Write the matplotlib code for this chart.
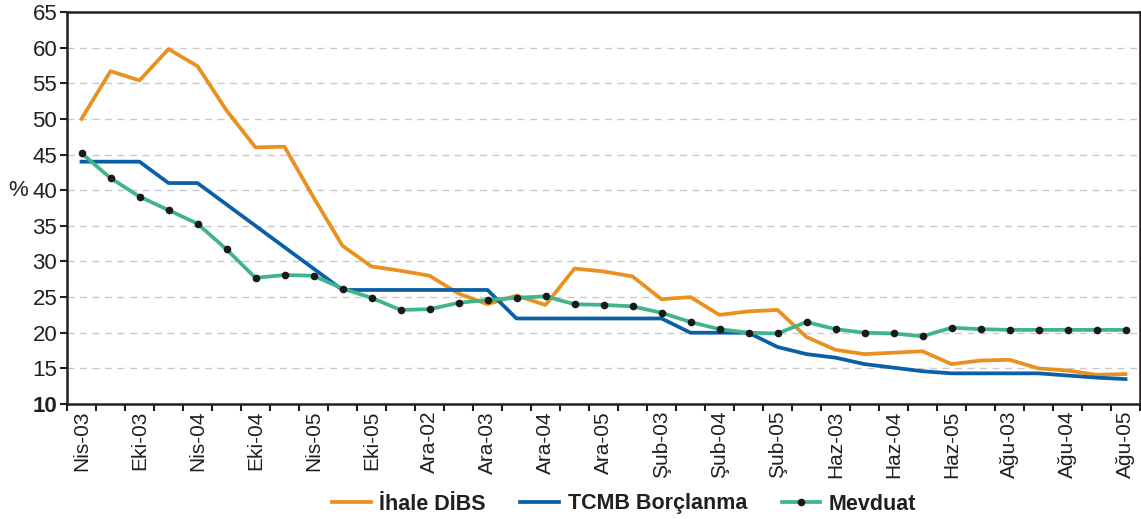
import numpy as np
import matplotlib
matplotlib.use("Agg")
import matplotlib.pyplot as plt

plt.rcParams['font.family'] = ['Liberation Sans', 'DejaVu Sans']

# 37 periods, every second one labelled
labels = ["Nis-03", "Eki-03", "Nis-04", "Eki-04", "Nis-05", "Eki-05",
          "Ara-02", "Ara-03", "Ara-04", "Ara-05", "Şub-03", "Şub-04",
          "Şub-05", "Haz-03", "Haz-04", "Haz-05", "Ağu-03", "Ağu-04", "Ağu-05"]

ihale = [50.0, 56.7, 55.4, 59.8, 57.4, 51.2, 46.0, 46.1, 39.0, 32.2,
         29.3, 28.7, 28.0, 25.5, 24.0, 25.2, 23.9, 29.0, 28.6, 27.9,
         24.7, 25.0, 22.5, 23.0, 23.2, 19.4, 17.6, 17.0, 17.2, 17.4,
         15.6, 16.1, 16.2, 15.0, 14.7, 14.1, 14.2]

tcmb = [44.0, 44.0, 44.0, 41.0, 41.0, 38.0, 35.0, 32.0, 29.0, 26.0,
        26.0, 26.0, 26.0, 26.0, 26.0, 22.0, 22.0, 22.0, 22.0, 22.0,
        22.0, 20.0, 20.0, 20.0, 18.0, 17.0, 16.5, 15.6, 15.1, 14.6,
        14.3, 14.3, 14.3, 14.3, 14.0, 13.7, 13.5]

mevduat = [45.2, 41.7, 39.1, 37.2, 35.3, 31.7, 27.7, 28.1, 28.0, 26.2,
           24.9, 23.2, 23.3, 24.2, 24.6, 24.9, 25.1, 24.0, 23.9, 23.7,
           22.8, 21.5, 20.5, 20.0, 19.9, 21.5, 20.5, 20.0, 19.9, 19.5,
           20.7, 20.5, 20.4, 20.4, 20.4, 20.4, 20.4]

x = np.arange(len(ihale))

fig = plt.figure(figsize=(11.41, 5.19), dpi=100)
ax = fig.add_axes([67 / 1141, 1 - 404 / 519, (1140 - 67) / 1141, (404 - 12) / 519])

ax.plot(x, ihale, color='#EA901F', lw=2.7, label='İhale DİBS', zorder=3)
ax.plot(x, tcmb, color='#0A5FA5', lw=2.7, label='TCMB Borçlanma', zorder=3)
ax.plot(x, mevduat, color='#40B58A', lw=2.7, marker='o', markersize=4.5,
        markerfacecolor='#1a1a1a', markeredgecolor='#1a1a1a',
        label='Mevduat', zorder=4)

ax.set_xlim(-0.5, len(x) - 0.5)
ax.set_ylim(10, 65)

ax.set_yticks(np.arange(10, 66, 5))
ax.tick_params(axis='y', labelsize=16, length=5, width=1.5, color='#231f20',
               labelcolor='#231f20', pad=2)
for t in ax.get_yticklabels():
    if t.get_text() == '10':
        t.set_fontweight('bold')

for yv in range(15, 61, 5):
    ax.axhline(yv, color='#c8c8d0', lw=1.0, ls=(0, (5, 4)), zorder=1)

# ticks at the period boundaries, labels on every second period
ax.set_xticks(np.arange(-0.5, len(x), 1.0))
ax.set_xticklabels([])
ax.tick_params(axis='x', which='major', length=5, width=1.5, color='#231f20')
ax.set_xticks(x[::2], minor=True)
ax.set_xticklabels(labels, minor=True, rotation=90, fontsize=15, color='#231f20')
ax.tick_params(axis='x', which='minor', length=0, pad=5)

for side in ['left', 'bottom', 'top', 'right']:
    ax.spines[side].set_color('#231f20')
    ax.spines[side].set_linewidth(1.8)

fig.text(18 / 1141, 1 - 190 / 519, '%', fontsize=16, color='#231f20',
         ha='center', va='center')

leg = fig.legend(loc='center', bbox_to_anchor=(0.547, 1 - 504 / 519), ncol=3,
                 frameon=False, handlelength=1.8, handletextpad=0.4,
                 columnspacing=1.6,
                 prop={'weight': 'bold', 'size': 15.5})
for t in leg.get_texts():
    t.set_color('#231f20')

fig.savefig('out.png', dpi=100)
